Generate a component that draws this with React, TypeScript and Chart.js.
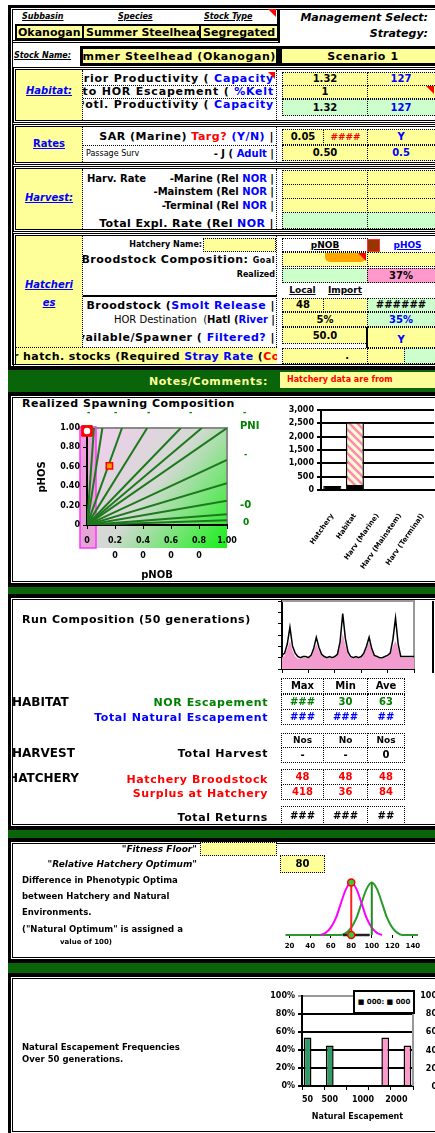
import React, { useEffect, useRef } from "react";
import { Chart, registerables } from "chart.js";

Chart.register(...registerables);
Chart.defaults.font.family = "'DejaVu Sans', sans-serif";
Chart.defaults.font.weight = "bold";
Chart.defaults.color = "#000";

// ---------------- data ----------------
// Realized spawning composition (pNOB vs pHOS)
const spawnTicks = [0, 0.2, 0.4, 0.6, 0.8, 1.0];
const spawnXLabels: any[] = ["0", ["0.2", "0"], ["0.4", "0"], ["0.6", "0"], ["0.8", "0"], "1.00"];
const spawnYLabels = ["0", "0.20", "0.40", "0.60", "0.80", "1.00"];
const pniTopEndsX = [0.05, 0.11, 0.25, 0.43, 0.67, 0.82];
const pniRightEndsY = [1.0, 0.67, 0.43, 0.25, 0.11, 0.05];
const goalPoint = { x: 0.0, y: 0.97 };
const realizedPoint = { x: 0.16, y: 0.61 };

// Mortality / abundance bar chart
const mortalityCategories = ["Hatchery", "Habitat", "Harv (Marine)", "Harv (Mainstem)", "Harv (Terminal)"];
const mortalityBase = [150, 190, 0, 0, 0];
const mortalityStriped = [0, 2355, 0, 0, 0];
const mortalityTicks = [0, 500, 1000, 1500, 2000, 2500, 3000];

// Run composition (50 generations)
const runTotal = [12, 14, 22, 37, 20, 14, 11, 10, 11, 11, 10, 12, 18, 28, 19, 13, 11, 10, 11, 10, 11, 13, 24, 49, 27, 15, 11, 10, 11, 10, 11, 14, 20, 28, 18, 12, 11, 10, 10, 11, 12, 14, 26, 45, 22, 11, 11, 11, 11, 11, 11];
const runHatchery = [10, 12, 18, 25, 16, 11, 9, 9, 10, 10, 9, 11, 16, 22, 16, 12, 10, 9, 10, 9, 10, 12, 20, 31, 21, 13, 10, 9, 10, 9, 10, 13, 18, 24, 16, 11, 10, 9, 9, 10, 11, 13, 20, 25, 18, 10, 10, 10, 10, 10, 10];

// Phenotypic optima
const phenoTicks = [20, 40, 60, 80, 100, 120, 140];
const hatcheryCurveX = [50, 55, 60, 65, 70, 75, 80, 85, 90, 95, 100, 105, 110];
const hatcheryCurveY = [0, 0.04, 0.14, 0.32, 0.61, 0.88, 1, 0.88, 0.61, 0.32, 0.14, 0.04, 0];
const naturalCurveX = [16, 70, 75, 80, 85, 90, 95, 100, 105, 110, 115, 120, 125, 130, 145];
const naturalCurveY = [0, 0, 0.04, 0.14, 0.32, 0.61, 0.88, 1, 0.88, 0.61, 0.32, 0.14, 0.04, 0, 0];
const hatcheryOptimum = 80;
const naturalOptimum = 100;
const overlapSegment = [72, 98];

// Natural escapement frequencies
const escapementSlots = ["50", "", "500", "", "", "1000", "", "", "2000", ""];
const naturalFreq = [54, null, 45, null, null, null, null, null, null, null];
const hatcheryFreq = [null, null, null, null, null, null, null, 54, null, 45];
const freqTicks = [0, 20, 40, 60, 80, 100];

// ---------------- helpers ----------------
const Y = "#ffff99", G = "#ccffcc", PK = "#ff99cc", BL = "#0000ff", RD = "#ff0000", GT = "#008000";
const DOT = "1px dotted #000";
const abs = (x: number, y: number, w: number, h: number, st: any = {}) => ({ position: "absolute", left: x, top: y, width: w, height: h, boxSizing: "border-box", ...st } as React.CSSProperties);

function T(p: any) {
  const jc = p.a === "r" ? "flex-end" : p.a === "c" ? "center" : "flex-start";
  return (
    <div style={abs(p.x, p.y, p.w, p.h, { display: "flex", alignItems: "center", justifyContent: jc, overflow: "hidden", fontSize: p.s ?? 10, color: p.c ?? "#000", background: p.bg, fontStyle: p.i ? "italic" : "normal", fontWeight: p.fw ?? "bold", border: p.b, lineHeight: 1, letterSpacing: p.ls ?? 0, ...(p.st || {}) })}>
      <span style={{ whiteSpace: "pre", textDecoration: p.u ? "underline" : "none", flexShrink: 0 }}>{p.children}</span>
    </div>
  );
}
const Blk = (p: any) => <div style={abs(p.x, p.y, p.w, p.h, p.st)} />;
const Tri = ({ x, y, s }: any) => <div style={{ position: "absolute", left: x, top: y, width: 0, height: 0, borderTop: `${s}px solid ${RD}`, borderLeft: `${s}px solid transparent` }} />;

function Frame({ x, y, w, h }: any) {
  return (
    <>
      <div style={abs(x, y, w, h, { borderLeft: "3px solid #000", borderTop: "3px solid #000", borderBottom: "3px solid #000" })} />
      <div style={abs(x + 4, y + 4, w - 4, h - 8, { borderLeft: "1px solid #000", borderTop: "1px solid #000", borderBottom: "1px solid #000" })} />
    </>
  );
}
const Band = ({ y, h }: any) => <div style={abs(8, y, 470, h, { background: "#0a640a", borderTop: "2px solid #000", borderBottom: "2px solid #000" })} />;
const DBox = ({ x, y, w, h }: any) => <div style={abs(x, y, w, h, { border: "3px double #000" })} />;

function ChartCanvas({ x, y, w, h, make }: any) {
  const ref = useRef<HTMLCanvasElement>(null);
  useEffect(() => {
    const c = new Chart(ref.current as HTMLCanvasElement, make());
    return () => c.destroy();
  }, []);
  return <canvas ref={ref} width={w} height={h} style={{ position: "absolute", left: x, top: y, width: w, height: h }} />;
}

const baseOpts = (padding: any) => ({
  responsive: false, animation: false, devicePixelRatio: 1, events: [],
  layout: { padding },
  plugins: { legend: { display: false }, tooltip: { enabled: false }, title: { display: false } },
});

// ---------------- charts ----------------
const spawnBg = {
  id: "spawnBg",
  beforeDraw(chart: any) {
    const { ctx, scales } = chart;
    const x0 = scales.x.getPixelForValue(0), x1 = scales.x.getPixelForValue(1);
    const yT = scales.y.getPixelForValue(1), y0 = scales.y.getPixelForValue(0);
    const L = x0 - 7, B = y0 + 23;
    ctx.save();
    const g = ctx.createLinearGradient(L, yT, x1, B);
    g.addColorStop(0, "#f6cdf2");
    g.addColorStop(0.5, "#d3d9d3");
    g.addColorStop(1, "#16f016");
    ctx.fillStyle = g;
    ctx.fillRect(L, yT, x1 - L, B - yT);
    ctx.fillStyle = "rgba(232,150,212,0.8)";
    ctx.fillRect(L, yT - 1, 16, B - yT + 1);
    ctx.strokeStyle = "#ff33ff";
    ctx.lineWidth = 1.5;
    ctx.strokeRect(L, yT - 1, 16, B - yT + 1);
    ctx.strokeStyle = "#8a8a8a";
    ctx.lineWidth = 2;
    ctx.beginPath();
    ctx.moveTo(x0, yT); ctx.lineTo(x1, yT); ctx.lineTo(x1, y0);
    ctx.stroke();
    ctx.restore();
  },
};

function makeSpawn(): any {
  const lineData = [
    ...pniTopEndsX.map((x) => [{ x: 0, y: 0 }, { x, y: 1 }]),
    ...pniRightEndsY.map((y) => [{ x: 0, y: 0 }, { x: 1, y }]),
  ];
  const lines = lineData.map((d) => ({ data: d, showLine: true, borderColor: "#1c7a1c", borderWidth: 2, pointRadius: 0, fill: false }));
  return {
    type: "scatter",
    data: {
      datasets: [
        { data: [goalPoint], pointStyle: "circle", pointRadius: 4, backgroundColor: "#fff", borderColor: RD, borderWidth: 1.5, clip: false },
        { data: [goalPoint], pointStyle: "rect", pointRadius: 7.5, backgroundColor: RD, borderColor: RD, borderWidth: 1, clip: false },
        { data: [realizedPoint], pointStyle: "rect", pointRadius: 4.5, backgroundColor: "#ff9900", borderColor: RD, borderWidth: 1.5, clip: false },
        ...lines,
      ],
    },
    options: {
      ...baseOpts({ top: 23, right: 38, left: 0, bottom: 0 }),
      scales: {
        x: {
          type: "linear", min: 0, max: 1,
          afterBuildTicks: (s: any) => { s.ticks = spawnTicks.map((v) => ({ value: v })); },
          afterFit: (s: any) => { s.height = 58; },
          grid: { drawOnChartArea: false, color: "#000", tickLength: 4 },
          border: { color: "#000", width: 2 },
          ticks: { font: { size: 8, weight: "bold", lineHeight: 1.9 }, padding: 4, maxRotation: 0, callback: (_v: any, i: number) => spawnXLabels[i] },
        },
        y: {
          type: "linear", min: 0, max: 1,
          afterBuildTicks: (s: any) => { s.ticks = spawnTicks.map((v) => ({ value: v })); },
          afterFit: (s: any) => { s.width = 67; },
          grid: { drawOnChartArea: false, color: "#000", tickLength: 4 },
          border: { color: "#000", width: 2 },
          ticks: { font: { size: 8, weight: "bold" }, padding: 3, callback: (_v: any, i: number) => spawnYLabels[i] },
        },
      },
    },
    plugins: [spawnBg],
  };
}

function stripePattern() {
  const c = document.createElement("canvas");
  c.width = 8; c.height = 8;
  const g = c.getContext("2d") as CanvasRenderingContext2D;
  g.fillStyle = "#ffffcc"; g.fillRect(0, 0, 8, 8);
  g.strokeStyle = "#ff88bb"; g.lineWidth = 2.6;
  g.beginPath();
  g.moveTo(-2, -2); g.lineTo(10, 10);
  g.moveTo(-6, 2); g.lineTo(2, 10);
  g.moveTo(6, -2); g.lineTo(10, 2);
  g.stroke();
  return g.createPattern(c, "repeat");
}

function makeMort(): any {
  return {
    type: "bar",
    data: {
      labels: mortalityCategories,
      datasets: [
        { data: mortalityBase, backgroundColor: "#000", borderColor: "#000", borderWidth: 1, stack: "m", barPercentage: 0.8, categoryPercentage: 1 },
        { data: mortalityStriped, backgroundColor: stripePattern(), borderColor: "#000", borderWidth: 1.5, stack: "m", barPercentage: 0.8, categoryPercentage: 1 },
      ],
    },
    options: {
      ...baseOpts({ top: 10, right: 11, left: 0, bottom: 0 }),
      scales: {
        x: {
          stacked: true, grid: { display: false }, border: { color: "#000", width: 2 },
          ticks: { font: { size: 7, weight: "bold" }, minRotation: 55, maxRotation: 55, padding: 14, autoSkip: false },
          afterFit: (s: any) => { s.height = 93; },
        },
        y: {
          stacked: true, min: 0, max: 3000,
          afterBuildTicks: (s: any) => { s.ticks = mortalityTicks.map((v) => ({ value: v })); },
          grid: { color: "#000", lineWidth: 2, tickLength: 4 },
          border: { color: "#000", width: 2 },
          ticks: { font: { size: 8, weight: "bold" }, padding: 3, callback: (v: any) => Number(v).toLocaleString("en-US") },
          afterFit: (s: any) => { s.width = 51; },
        },
      },
    },
  };
}

const frameTR = (color: string, top: boolean) => ({
  id: "frameTR",
  beforeDatasetsDraw(chart: any) {
    const { ctx, chartArea: a } = chart;
    ctx.save();
    ctx.strokeStyle = color; ctx.lineWidth = 2;
    ctx.beginPath();
    if (top) { ctx.moveTo(a.left, a.top); ctx.lineTo(a.right, a.top); } else { ctx.moveTo(a.right, a.top); }
    ctx.lineTo(a.right, a.bottom);
    ctx.stroke();
    ctx.restore();
  },
});

function makeRun(): any {
  return {
    type: "line",
    data: {
      datasets: [
        { data: runTotal.map((v, i) => ({ x: i, y: v })), borderColor: "#000", borderWidth: 1.5, pointRadius: 0, fill: false, tension: 0 },
        { data: runHatchery.map((v, i) => ({ x: i, y: v })), borderColor: "#f39ccf", borderWidth: 0, backgroundColor: "#f39ccf", pointRadius: 0, fill: "origin", tension: 0 },
      ],
    },
    options: {
      ...baseOpts({ top: 5, right: 21, left: 0, bottom: 0 }),
      scales: {
        x: { type: "linear", min: 0, max: 50, ticks: { display: false, stepSize: 10 }, grid: { drawOnChartArea: false, color: "#000", tickLength: 4 }, border: { color: "#000", width: 2 }, afterFit: (s: any) => { s.height = 11; } },
        y: { min: 0, max: 60, ticks: { display: false, stepSize: 10 }, grid: { drawOnChartArea: false, color: "#000", tickLength: 4 }, border: { color: "#000", width: 2 }, afterFit: (s: any) => { s.width = 12; } },
      },
    },
    plugins: [frameTR("#999", true)],
  };
}

function makePheno(): any {
  const hc = hatcheryCurveX.map((x, i) => ({ x, y: hatcheryCurveY[i] }));
  const nc = naturalCurveX.map((x, i) => ({ x, y: naturalCurveY[i] }));
  return {
    type: "scatter",
    data: {
      datasets: [
        { data: [{ x: hatcheryOptimum, y: 1 }, { x: hatcheryOptimum, y: 0 }], pointStyle: "circle", pointRadius: 3.5, backgroundColor: "#33cc33", borderColor: RD, borderWidth: 1.5, clip: false },
        { data: [{ x: hatcheryOptimum, y: 0 }, { x: hatcheryOptimum, y: 1 }], showLine: true, borderColor: "#ff2020", borderWidth: 2, pointRadius: 0, clip: false },
        { data: [{ x: naturalOptimum, y: 0 }, { x: naturalOptimum, y: 1 }], showLine: true, borderColor: "#1e8c1e", borderWidth: 2, pointRadius: 0, clip: false },
        { data: overlapSegment.map((x) => ({ x, y: 0 })), showLine: true, borderColor: "#222", borderWidth: 2.5, pointRadius: 0, clip: false },
        { data: hc, showLine: true, borderColor: "#ff00ff", borderWidth: 2, pointRadius: 0, cubicInterpolationMode: "monotone", clip: false },
        { data: nc, showLine: true, borderColor: "#2a9a2a", borderWidth: 2, pointRadius: 0, cubicInterpolationMode: "monotone", clip: false },
      ],
    },
    options: {
      ...baseOpts({ top: 8, right: 7, left: 5, bottom: 0 }),
      scales: {
        x: {
          type: "linear", min: 16, max: 145,
          afterBuildTicks: (s: any) => { s.ticks = phenoTicks.map((v) => ({ value: v })); },
          grid: { drawOnChartArea: false, color: "#000", tickLength: 3 },
          border: { display: false },
          ticks: { font: { size: 7, weight: "bold" }, padding: 4, maxRotation: 0 },
          afterFit: (s: any) => { s.height = 21; },
        },
        y: { display: false, min: 0, max: 1.05 },
      },
    },
  };
}

function makeFreq(): any {
  return {
    type: "bar",
    data: {
      labels: escapementSlots,
      datasets: [
        { data: naturalFreq, backgroundColor: "#339966", borderColor: "#000", borderWidth: 1.5, grouped: false, barPercentage: 0.7, categoryPercentage: 1 },
        { data: hatcheryFreq, backgroundColor: "#ff99cc", borderColor: "#000", borderWidth: 1.5, grouped: false, barPercentage: 0.7, categoryPercentage: 1 },
      ],
    },
    options: {
      ...baseOpts({ top: 8, right: 7, left: 0, bottom: 0 }),
      scales: {
        x: {
          grid: { offset: true, drawOnChartArea: false, tickLength: 4, color: (c: any) => (c.index === undefined || c.index % 2 === 0 ? "#000" : "rgba(0,0,0,0)") },
          border: { color: "#000", width: 2 },
          ticks: { font: { size: 8, weight: "bold" }, autoSkip: false, maxRotation: 0, padding: 5 },
          title: { display: true, text: "Natural Escapement", font: { size: 8, weight: "bold" }, padding: { top: 2, bottom: 4 } },
          afterFit: (s: any) => { s.height = 40; },
        },
        y: {
          min: 0, max: 100,
          afterBuildTicks: (s: any) => { s.ticks = freqTicks.map((v) => ({ value: v })); },
          grid: { color: (c: any) => (c.tick && c.tick.value === 100 ? "#999" : "#000"), lineWidth: 2, tickLength: 4 },
          border: { color: "#000", width: 2 },
          ticks: { font: { size: 8, weight: "bold" }, padding: 3, callback: (v: any) => v + "%" },
          afterFit: (s: any) => { s.width = 40; },
        },
      },
    },
    plugins: [frameTR("#999", false)],
  };
}

// ---------------- page ----------------
export default function App() {
  return (
    <div style={{ position: "absolute", left: 0, top: 0, width: 435, height: 1133, overflow: "hidden", background: "#fff", fontFamily: "'DejaVu Sans', sans-serif" }}>
      {/* ===== Section 1 ===== */}
      <Frame x={8} y={5} w={470} h={364} />
      <Blk x={13} y={9} w={267} h={34} st={{ borderRight: "3px solid #000", borderBottom: "3px double #000" }} />
      <T x={22} y={11} w={60} h={12} s={8} i u>Subbasin</T>
      <T x={118} y={11} w={50} h={12} s={8} i u>Species</T>
      <T x={204} y={11} w={64} h={12} s={8} i u>Stock Type</T>
      <Tri x={268} y={9} s={8} />
      <Blk x={15} y={24} w={264} h={16} st={{ border: "2px solid #000", background: Y }} />
      <Blk x={82} y={24} w={2} h={16} st={{ background: "#000" }} />
      <Blk x={199} y={24} w={2} h={16} st={{ background: "#000" }} />
      <T x={18} y={26} w={64} h={12} s={11}>Okanogan</T>
      <T x={86} y={26} w={113} h={12} s={11}>Summer Steelhead</T>
      <T x={203} y={26} w={74} h={12} s={11}>Segregated</T>
      <T x={283} y={11} w={145} h={13} s={11} i a="r">Management Select:</T>
      <T x={283} y={27} w={145} h={13} s={11} i a="r">Strategy:</T>
      <T x={14} y={49} w={66} h={13} s={8} i u>Stock Name:</T>
      <T x={80} y={46} w={199} h={20} s={11} bg={Y} b="3px solid #000" a="r" ls={0.6}>Summer Steelhead (Okanogan)</T>
      <T x={279} y={46} w={168} h={20} s={11} bg={Y} b="3px solid #000" a="c" ls={0.6}>Scenario 1</T>

      {/* Habitat */}
      <DBox x={13} y={67} w={470} h={56} />
      <Blk x={16} y={70} w={67} h={50} st={{ background: Y, borderRight: DOT }} />
      <T x={16} y={84} w={66} h={14} s={10} i u c={BL} a="c">Habitat:</T>
      <Blk x={276} y={70} w={2} h={50} st={{ borderLeft: DOT }} />
      <T x={83} y={72} w={191} h={13} s={11} a="r" ls={0.8}>Prior Productivity ( <span style={{ color: BL }}>Capacity</span></T>
      <T x={83} y={85} w={191} h={13} s={11} a="r" ls={0.8}>Prior to HOR Escapement ( <span style={{ color: BL }}>%Kelt</span></T>
      <T x={83} y={98} w={191} h={13} s={11} a="r" ls={0.8}>Potl. Productivity ( <span style={{ color: BL }}>Capacity</span></T>
      <Tri x={268} y={72} s={7} />
      <Blk x={83} y={85} w={193} h={1} st={{ borderTop: DOT }} />
      <Blk x={83} y={98} w={193} h={1} st={{ borderTop: DOT }} />
      <T x={282} y={72} w={86} h={14} s={10} bg={Y} b={DOT} a="c">1.32</T>
      <T x={367} y={72} w={80} h={14} s={10} bg={Y} b={DOT} a="c" c={BL} st={{ paddingRight: 12 }}>127</T>
      <T x={282} y={85} w={86} h={14} s={10} bg={Y} b={DOT} a="c">1</T>
      <T x={367} y={85} w={80} h={14} s={10} bg={Y} b={DOT} a="c"> </T>
      <Tri x={426} y={86} s={8} />
      <T x={282} y={99} w={86} h={17} s={10} bg={G} b={DOT} a="c">1.32</T>
      <T x={367} y={99} w={80} h={17} s={10} bg={G} b={DOT} a="c" c={BL} st={{ paddingRight: 12 }}>127</T>

      {/* Rates */}
      <DBox x={13} y={124} w={470} h={41} />
      <Blk x={16} y={127} w={67} h={35} st={{ background: Y, borderRight: DOT }} />
      <T x={16} y={137} w={66} h={14} s={10} u c={BL} a="c">Rates</T>
      <Blk x={276} y={127} w={2} h={35} st={{ borderLeft: DOT }} />
      <T x={83} y={129} w={191} h={15} s={11} a="r" ls={0.5}>SAR (Marine) <span style={{ color: RD }}>Targ?</span> <span style={{ color: BL }}>(Y/N)</span> |</T>
      <Blk x={83} y={145} w={193} h={1} st={{ borderTop: DOT }} />
      <T x={86} y={148} w={80} h={12} s={8} fw="normal">Passage Surv</T>
      <T x={150} y={147} w={124} h={13} s={10} a="r">- J ( <span style={{ color: BL }}>Adult</span> |</T>
      <T x={282} y={129} w={42} h={16} s={10} bg={Y} b={DOT} a="c">0.05</T>
      <T x={323} y={129} w={45} h={16} s={9} bg={Y} b={DOT} a="c" c={RD}>####</T>
      <T x={367} y={129} w={80} h={16} s={10} bg={Y} b={DOT} a="c" c={BL} st={{ paddingRight: 12 }}>Y</T>
      <T x={282} y={145} w={86} h={16} s={10} bg={Y} b={DOT} a="c">0.50</T>
      <T x={367} y={145} w={80} h={16} s={10} bg={Y} b={DOT} a="c" c={BL} st={{ paddingRight: 12 }}>0.5</T>

      {/* Harvest */}
      <DBox x={13} y={166} w={470} h={66} />
      <Blk x={16} y={169} w={67} h={60} st={{ background: Y, borderRight: DOT }} />
      <T x={16} y={191} w={66} h={14} s={10} i u c={BL} a="c">Harvest:</T>
      <Blk x={276} y={169} w={2} h={60} st={{ borderLeft: DOT }} />
      <T x={87} y={172} w={80} h={13} s={10}>Harv. Rate</T>
      <T x={150} y={172} w={124} h={13} s={10} a="r">-Marine (Rel <span style={{ color: BL }}>NOR</span> |</T>
      <T x={83} y={185} w={191} h={13} s={10} a="r">-Mainstem (Rel <span style={{ color: BL }}>NOR</span> |</T>
      <T x={83} y={199} w={191} h={13} s={10} a="r">-Terminal (Rel <span style={{ color: BL }}>NOR</span> |</T>
      <T x={83} y={216} w={191} h={14} s={11} a="r" ls={0.4}>Total Expl. Rate (Rel <span style={{ color: BL }}>NOR</span> |</T>
      <T x={282} y={170} w={86} h={15} bg={Y} b={DOT}> </T>
      <T x={367} y={170} w={80} h={15} bg={Y} b={DOT}> </T>
      <T x={282} y={184} w={86} h={15} bg={Y} b={DOT}> </T>
      <T x={367} y={184} w={80} h={15} bg={Y} b={DOT}> </T>
      <T x={282} y={198} w={86} h={15} bg={Y} b={DOT}> </T>
      <T x={367} y={198} w={80} h={15} bg={Y} b={DOT}> </T>
      <T x={282} y={212} w={86} h={17} bg={G} b={DOT}> </T>
      <T x={367} y={212} w={80} h={17} bg={G} b={DOT}> </T>

      {/* Hatcheries */}
      <DBox x={13} y={233} w={470} h={134} />
      <Blk x={16} y={236} w={67} h={111} st={{ background: Y, borderRight: DOT }} />
      <T x={16} y={278} w={66} h={14} s={10} i u c={BL} a="c">Hatcheri</T>
      <T x={16} y={296} w={66} h={14} s={10} i u c={BL} a="c">es</T>
      <Blk x={276} y={236} w={2} h={111} st={{ borderLeft: DOT }} />
      <T x={83} y={239} w={119} h={12} s={8} a="r">Hatchery Name:</T>
      <Blk x={203} y={238} w={73} h={14} st={{ background: Y, border: DOT }} />
      <T x={83} y={252} w={192} h={14} s={11} a="r" ls={0.5}>Broodstock Composition: <span style={{ fontSize: 8 }}>Goal</span></T>
      <T x={83} y={268} w={192} h={14} s={8} a="r">Realized</T>
      <Blk x={83} y={295} w={194} h={2} st={{ background: "#000" }} />
      <T x={83} y={298} w={192} h={14} s={11} a="r" ls={0.5}>Broodstock (<span style={{ color: BL }}>Smolt Release</span> |</T>
      <T x={83} y={313} w={192} h={14} s={10} a="r"><span style={{ fontWeight: "normal" }}>HOR Destination  (</span>Hatl (<span style={{ color: BL }}>River</span> |</T>
      <T x={83} y={330} w={192} h={14} s={11} a="r" ls={0.5}>Available/Spawner ( <span style={{ color: BL }}>Filtered?</span> |</T>
      <T x={16} y={347} w={261} h={17} s={11} bg={Y} a="c" ls={0.4} st={{ borderTop: DOT }}>Other hatch. stocks (Required <span style={{ color: BL }}>Stray Rate</span> (<span style={{ color: RD }}>Control</span></T>
      <T x={282} y={238} w={86} h={14} s={9} b={DOT} a="c" u>pNOB</T>
      <Blk x={367} y={239} w={13} h={13} st={{ background: "#993300", border: "1.5px solid #ff3333" }} />
      <T x={380} y={238} w={55} h={14} s={9} c={BL} a="c" u>pHOS</T>
      <T x={282} y={252} w={86} h={15} bg={Y} b={DOT}> </T>
      <Blk x={325} y={253} w={41} h={9} st={{ background: "#ffa500", borderRadius: "0 0 5px 5px" }} />
      <Tri x={358} y={253} s={8} />
      <T x={367} y={252} w={80} h={15} bg={Y} b={DOT}> </T>
      <T x={282} y={268} w={86} h={15} bg={G} b={DOT}> </T>
      <T x={367} y={268} w={80} h={15} s={10} bg={PK} b={DOT} a="c" st={{ paddingRight: 12 }}>37%</T>
      <T x={282} y={284} w={41} h={12} s={9} u a="c">Local</T>
      <T x={323} y={284} w={44} h={12} s={9} u a="c">Import</T>
      <T x={282} y={298} w={42} h={14} s={10} bg={Y} b={DOT} a="c">48</T>
      <T x={323} y={298} w={45} h={14} bg={Y} b={DOT}> </T>
      <T x={367} y={298} w={80} h={14} s={10} bg={G} b={DOT} a="c" st={{ paddingRight: 12 }}>######</T>
      <T x={282} y={312} w={86} h={15} s={10} bg={Y} b={DOT} a="c">5%</T>
      <T x={367} y={312} w={80} h={15} s={10} bg={G} b={DOT} a="c" c={BL} st={{ paddingRight: 12 }}>35%</T>
      <T x={282} y={327} w={86} h={17} s={10} bg={Y} b={DOT} a="c">50.0</T>
      <T x={367} y={327} w={80} h={21} s={10} bg={Y} b={DOT} a="c" c={BL} st={{ paddingRight: 12, alignItems: "flex-end", paddingBottom: 2 }}>Y</T>
      <Blk x={366} y={327} w={2} h={21} st={{ background: "#000" }} />
      <T x={282} y={348} w={86} h={16} s={10} bg={Y} b={DOT} a="r" st={{ paddingRight: 18 }}>.</T>
      <T x={367} y={348} w={38} h={16} bg={Y} b={DOT}> </T>
      <T x={404} y={348} w={43} h={16} bg={G} b={DOT}> </T>

      {/* Notes band */}
      <Band y={368} h={26} />
      <T x={100} y={374} w={168} h={14} s={11} c="#ffff99" a="r" ls={0.6}>Notes/Comments:</T>
      <T x={280} y={372} w={170} h={16} s={8} bg={Y} c={RD} st={{ paddingLeft: 7 }}>Hatchery data are from</T>

      {/* ===== Section 2 ===== */}
      <Frame x={8} y={393} w={470} h={193} />
      <T x={22} y={397} w={240} h={13} s={11} ls={0.5}>Realized Spawning Composition</T>
      <ChartCanvas x={20} y={405} w={245} h={178} make={makeSpawn} />
      <T x={25} y={471} w={34} h={12} s={10} a="c" st={{ transform: "rotate(-90deg)" }}>pHOS</T>
      <T x={130} y={569} w={54} h={12} s={10} a="c">pNOB</T>
      <T x={240} y={420} w={30} h={12} s={10} c={GT}>PNI</T>
      {[90, 117, 150, 192, 246].map((x) => <T key={x} x={x - 3} y={408} w={8} h={10} s={8} c={GT}>-</T>)}
      <T x={244} y={450} w={10} h={10} s={8} c={GT}>-</T>
      <T x={240} y={499} w={20} h={12} s={10} c={GT}>-0</T>
      <T x={243} y={516} w={12} h={12} s={9} c={GT}>0</T>
      <ChartCanvas x={270} y={400} w={175} h={183} make={makeMort} />

      <Band y={585} h={11} />

      {/* ===== Section 3 ===== */}
      <Frame x={8} y={595} w={470} h={234} />
      <T x={22} y={612} w={245} h={14} s={11} ls={0.5}>Run Composition (50 generations)</T>
      <ChartCanvas x={270} y={596} w={165} h={84} make={makeRun} />
      <Blk x={432} y={601} w={2} h={72} st={{ background: "#000" }} />

      <T x={281} y={678} w={43} h={16} s={10} b={DOT} a="c">Max</T>
      <T x={323} y={678} w={45} h={16} s={10} b={DOT} a="c">Min</T>
      <T x={367} y={678} w={38} h={16} s={10} b={DOT} a="c">Ave</T>
      <T x={12} y={695} w={70} h={14} s={12}>HABITAT</T>
      <T x={90} y={695} w={178} h={14} s={11} c={GT} a="r" ls={0.6}>NOR Escapement</T>
      <T x={90} y={710} w={178} h={14} s={11} c={BL} a="r" ls={0.6}>Total Natural Escapement</T>
      <T x={281} y={694} w={43} h={16} s={10} c={GT} b={DOT} a="c">###</T>
      <T x={323} y={694} w={45} h={16} s={10} c={GT} b={DOT} a="c">30</T>
      <T x={367} y={694} w={38} h={16} s={10} c={GT} b={DOT} a="c">63</T>
      <T x={281} y={709} w={43} h={16} s={10} c={BL} b={DOT} a="c">###</T>
      <T x={323} y={709} w={45} h={16} s={10} c={BL} b={DOT} a="c">###</T>
      <T x={367} y={709} w={38} h={16} s={10} c={BL} b={DOT} a="c">##</T>

      <T x={281} y={733} w={43} h={15} s={9} b={DOT} a="c">Nos</T>
      <T x={323} y={733} w={45} h={15} s={9} b={DOT} a="c">No</T>
      <T x={367} y={733} w={38} h={15} s={9} b={DOT} a="c">Nos</T>
      <T x={12} y={746} w={70} h={14} s={12}>HARVEST</T>
      <T x={90} y={746} w={178} h={14} s={11} a="r" ls={0.6}>Total Harvest</T>
      <T x={281} y={747} w={43} h={16} s={10} b={DOT} a="c">-</T>
      <T x={323} y={747} w={45} h={16} s={10} b={DOT} a="c">-</T>
      <T x={367} y={747} w={38} h={16} s={10} b={DOT} a="c">0</T>

      <T x={12} y={771} w={67} h={14} s={12} a="r">HATCHERY</T>
      <T x={90} y={772} w={178} h={14} s={11} c={RD} a="r" ls={0.6}>Hatchery Broodstock</T>
      <T x={90} y={786} w={178} h={14} s={11} c={RD} a="r" ls={0.6}>Surplus at Hatchery</T>
      <T x={281} y={769} w={43} h={16} s={10} c={RD} b={DOT} a="c">48</T>
      <T x={323} y={769} w={45} h={16} s={10} c={RD} b={DOT} a="c">48</T>
      <T x={367} y={769} w={38} h={16} s={10} c={RD} b={DOT} a="c">48</T>
      <T x={281} y={784} w={43} h={16} s={10} c={RD} b={DOT} a="c">418</T>
      <T x={323} y={784} w={45} h={16} s={10} c={RD} b={DOT} a="c">36</T>
      <T x={367} y={784} w={38} h={16} s={10} c={RD} b={DOT} a="c">84</T>

      <T x={90} y={810} w={178} h={14} s={11} a="r" ls={0.6}>Total Returns</T>
      <T x={281} y={806} w={43} h={19} s={10} b={DOT} a="c">###</T>
      <T x={323} y={806} w={45} h={19} s={10} b={DOT} a="c">###</T>
      <T x={367} y={806} w={38} h={19} s={10} b={DOT} a="c">##</T>

      <Band y={828} h={12} />

      {/* ===== Section 4 ===== */}
      <Frame x={8} y={839} w={470} h={123} />
      <T x={90} y={843} w={107} h={12} s={9} i a="r">"Fitness Floor"</T>
      <Blk x={200} y={842} w={77} h={14} st={{ background: Y, border: DOT }} />
      <T x={30} y={858} w={167} h={12} s={9} i a="r">"Relative Hatchery Optimum"</T>
      <T x={280} y={855} w={45} h={18} s={10} bg={Y} b={DOT} a="c">80</T>
      <T x={22} y={874} w={240} h={12} s={8.5}>Difference in Phenotypic Optima</T>
      <T x={22} y={890} w={240} h={12} s={8.5}>between Hatchery and Natural</T>
      <T x={22} y={906} w={240} h={12} s={8.5}>Environments.</T>
      <T x={22} y={923} w={240} h={12} s={8.5}>("Natural Optimum" is assigned a</T>
      <T x={60} y={936} w={120} h={12} s={7}>value of 100)</T>
      <ChartCanvas x={280} y={872} w={145} h={84} make={makePheno} />

      <Band y={961} h={14} />

      {/* ===== Section 5 ===== */}
      <Frame x={8} y={974} w={470} h={162} />
      <T x={22} y={1041} w={240} h={12} s={8.5}>Natural Escapement Frequencies</T>
      <T x={22} y={1053} w={240} h={12} s={8.5}>Over 50 generations.</T>
      <ChartCanvas x={262} y={988} w={158} h={138} make={makeFreq} />
      <T x={353} y={990} w={62} h={24} s={7} bg="#fff" b="2px solid #000" a="c">■ 000: ■ 000</T>
      {["100%", "80%", "60%", "40%", "20%", "0%"].map((t, i) => (
        <T key={t} x={417} y={991 + i * 18.2} w={28} h={10} s={8} a="r">{t}</T>
      ))}
    </div>
  );
}
